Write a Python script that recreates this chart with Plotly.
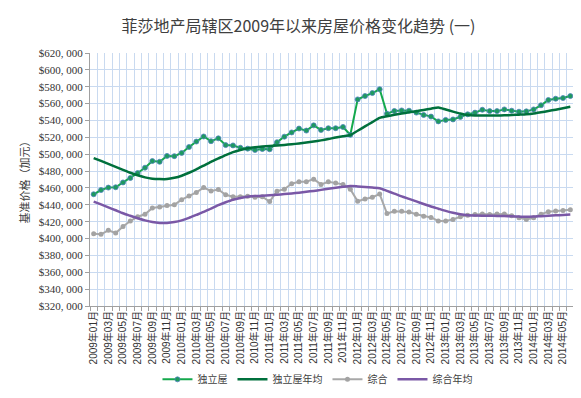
import plotly.graph_objects as go

# ---------------- data ----------------
months = [f"{y}年{m:02d}月" for y in range(2009, 2015) for m in range(1, 13)][:66]

detached = [
    452500, 457500, 460400, 460800, 466500, 471800, 477700, 484000, 491900, 491000,
    498000, 497700, 501500, 508500, 515000, 521000, 515400, 518800, 510800, 510400,
    507700, 506600, 505000, 506100, 505800, 514200, 520800, 525800, 530400, 528000,
    534200, 528800, 530800, 530800, 532300, 523000, 565000, 569000, 572500, 577000,
    548000, 551300, 551900, 551600, 549300, 546500, 544600, 538900, 540700, 541200,
    544200, 547300, 549300, 552700, 551100, 551100, 553100, 551600, 550400, 550800,
    553100, 558000, 564300, 565800, 566600, 568900,
]

detached_avg = [
    495400, 492000, 488500, 485000, 481500, 478000, 475000, 472500, 471000, 470500,
    470500, 472000, 474500, 478000, 482000, 486500, 491000, 495000, 499000, 502500,
    505000, 507000, 508200, 509000, 509600, 510300, 511000, 511800, 512700, 513800,
    515000, 516400, 518000, 519800, 521300, 522700, 527800, 533000, 538000, 543000,
    545000, 546800, 548300, 549600, 551000, 552500, 554000, 555400, 553000, 550500,
    548200, 546500, 546000, 545900, 545900, 545900, 546100, 546400, 546900, 547400,
    548300, 549700, 551200, 552800, 554500, 556300,
]

composite = [
    405700, 405000, 409700, 406500, 414300, 420800, 425800, 428800, 436200, 437400,
    439300, 440000, 446100, 450400, 454700, 460400, 456500, 458100, 451900, 449600,
    449600, 450000, 448900, 449600, 443800, 456200, 458500, 465000, 467400, 467400,
    470400, 464200, 467400, 465800, 464200, 458500, 444200, 446900, 448900, 452700,
    429600, 432300, 432300, 431500, 428800, 426500, 425000, 420800, 420800, 422700,
    425800, 427700, 428500, 429200, 428500, 429200, 429200, 427000, 424700, 422700,
    424700, 428800, 431900, 432700, 433100, 434200,
]

composite_avg = [
    443800, 440500, 437000, 433500, 430000, 427000, 424000, 421500, 419500, 418500,
    418500, 419500, 421500, 424500, 428000, 431500, 435500, 439500, 443000, 446000,
    448000, 449500, 450300, 450800, 451300, 451900, 452700, 453500, 454400, 455400,
    456500, 457700, 459000, 460200, 461300, 462200, 461800, 461200, 460500, 459700,
    456500, 453300, 450000, 447000, 444000, 441000, 438000, 435400, 432800, 430500,
    428800, 427700, 427200, 427000, 427000, 426800, 426600, 426300, 426000, 425800,
    426000, 426500, 427000, 427500, 428000, 428500,
]

y_ticks = list(range(320000, 620001, 20000))
y_tick_labels = [f"${v // 1000}, {v % 1000:03d}" for v in y_ticks]

title_text = "菲莎地产局辖区2009年以来房屋价格变化趋势 (一)"
y_title = "基准价格（加元）"

# ---------------- figure ----------------
x = list(range(len(months)))
grid_color = "#C9DAF0"
cjk = "Noto Sans CJK SC"

fig = go.Figure()
fig.add_trace(go.Scatter(
    x=x, y=detached, name="独立屋", mode="lines+markers",
    line=dict(color="#14A94C", width=2),
    marker=dict(size=5, color="#1E9A5E", line=dict(color="#4F81BD", width=0.8)),
))
fig.add_trace(go.Scatter(
    x=x, y=detached_avg, name="独立屋年均", mode="lines",
    line=dict(color="#00703C", width=2.5, shape="spline", smoothing=0.6),
))
fig.add_trace(go.Scatter(
    x=x, y=composite, name="综合", mode="lines+markers",
    line=dict(color="#A8A8A8", width=2),
    marker=dict(size=5, color="#A3A3A3"),
))
fig.add_trace(go.Scatter(
    x=x, y=composite_avg, name="综合年均", mode="lines",
    line=dict(color="#7A58A6", width=2.5, shape="spline", smoothing=0.6),
))

fig.update_layout(
    width=581, height=398,
    margin=dict(l=82, r=15, t=45, b=93),
    paper_bgcolor="white", plot_bgcolor="white",
    font=dict(family=cjk, size=10, color="#333333"),
    title=dict(text=title_text, x=0.5, xref="container", xanchor="center",
               y=1 - 18 / 398, yanchor="middle",
               font=dict(family=cjk, size=16, color="#404040")),
    legend=dict(orientation="h", x=0.47, xanchor="center", y=-0.29, yanchor="middle",
                font=dict(family=cjk, size=10, color="#404040"), itemwidth=30,
                bgcolor="rgba(0,0,0,0)"),
    showlegend=True,
)

fig.update_xaxes(
    range=[-0.5, len(months) - 0.5],
    tickmode="array", tickvals=x[::2], ticktext=months[::2],
    tickangle=-90, tickfont=dict(family="Liberation Sans, " + cjk, size=10, color="#333333"),
    showgrid=False, zeroline=False,
    showline=True, linecolor="#A0A0A0", linewidth=1,
    ticks="",
    minor=dict(tickvals=[i - 0.5 for i in range(len(months) + 1)], showgrid=True,
               gridcolor=grid_color, gridwidth=1, ticks="outside", ticklen=4,
               tickcolor="#A0A0A0"),
)

fig.update_yaxes(
    range=[320000, 620000],
    tickmode="array", tickvals=y_ticks, ticktext=y_tick_labels,
    tickfont=dict(family="Liberation Serif, " + cjk, size=11, color="#333333"),
    showgrid=True, gridcolor=grid_color, gridwidth=1, zeroline=False,
    showline=True, linecolor="#A0A0A0", linewidth=1,
    ticks="outside", ticklen=4, tickcolor="#A0A0A0",
    title=dict(text=y_title, font=dict(family=cjk, size=11, color="#404040"), standoff=6),
)

fig.write_html("out.html")
